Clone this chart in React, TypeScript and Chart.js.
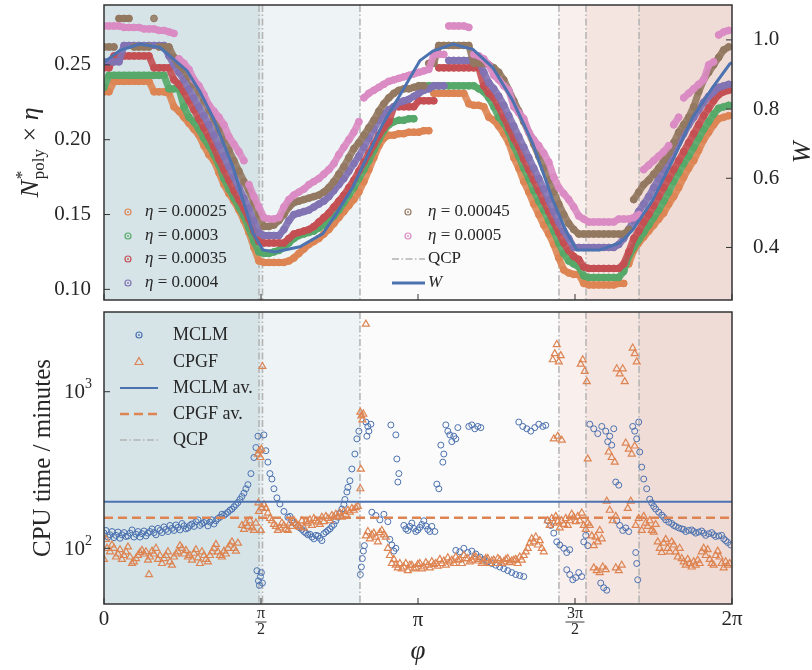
import React, { useEffect, useRef } from 'react';
import { Chart, registerables } from 'chart.js';
Chart.register(...registerables);

const PI = Math.PI;

// ---------------- data: top panel ----------------
const PHI = [
  0.00, 0.05, 0.10, 0.15, 0.20, 0.25, 0.30, 0.35, 0.40, 0.45,
  0.50, 0.55, 0.60, 0.65, 0.70, 0.75, 0.80, 0.85, 0.90, 0.95,
  1.00, 1.05, 1.10, 1.15, 1.20, 1.25, 1.30, 1.35, 1.40, 1.45,
  1.50, 1.55, 1.60, 1.65, 1.70, 1.75, 1.80, 1.85, 1.90, 1.95,
  2.00, 2.05, 2.10, 2.15, 2.20, 2.25, 2.30, 2.35, 2.40, 2.45,
  2.50, 2.55, 2.60, 2.65, 2.70, 2.75, 2.80, 2.85, 2.90, 2.95,
  3.00, 3.05, 3.10, 3.15, 3.20, 3.25, 3.30, 3.35, 3.40, 3.45,
  3.50, 3.55, 3.60, 3.65, 3.70, 3.75, 3.80, 3.85, 3.90, 3.95,
  4.00, 4.05, 4.10, 4.15, 4.20, 4.25, 4.30, 4.35, 4.40, 4.45,
  4.50, 4.55, 4.60, 4.65, 4.70, 4.75, 4.80, 4.85, 4.90, 4.95,
  5.00, 5.05, 5.10, 5.15, 5.20, 5.25, 5.30, 5.35, 5.40, 5.45,
  5.50, 5.55, 5.60, 5.65, 5.70, 5.75, 5.80, 5.85, 5.90, 5.95,
  6.00, 6.05, 6.10, 6.15, 6.20, 6.25,
];

const ETA_LABELS = ['0.00025', '0.0003', '0.00035', '0.0004', '0.00045', '0.0005'];

const N_ETA_00025 = [
  0.232, 0.232, 0.239, 0.239, 0.239, 0.239, 0.239, 0.239, 0.239, 0.239,
  0.232, 0.232, 0.232, 0.231, 0.222, 0.219, 0.215, 0.211, 0.207, 0.203,
  0.196, 0.190, 0.186, 0.178, 0.170, 0.164, 0.159, 0.153, 0.146, 0.138,
  0.128, 0.119, 0.118, 0.118, 0.118, 0.118, 0.118, 0.119, 0.121, 0.124,
  0.127, 0.130, 0.132, 0.134, 0.137, 0.140, 0.144, 0.148, 0.152, 0.156,
  0.160, 0.165, 0.172, 0.180, 0.188, 0.196, 0.201, 0.203, 0.203, 0.204,
  0.204, 0.205, 0.205, 0.205, 0.206, 0.206, 0.231, 0.231, 0.231, 0.231,
  0.231, 0.231, 0.231, 0.224, 0.223, 0.223, 0.222, 0.215, 0.213, 0.209,
  0.204, 0.198, 0.188, 0.181, 0.172, 0.165, 0.157, 0.150, 0.143, 0.137,
  0.130, 0.121, 0.113, 0.111, 0.110, 0.110, 0.104, 0.103, 0.103, 0.103,
  0.103, 0.103, 0.103, 0.104, 0.104, 0.117, 0.126, 0.131, 0.135, 0.139,
  0.143, 0.147, 0.151, 0.157, 0.162, 0.168, 0.175, 0.181, 0.186, 0.193,
  0.200, 0.205, 0.210, 0.214, 0.215, 0.216,
];

const N_ETA_0003 = [
  0.235, 0.243, 0.243, 0.243, 0.243, 0.243, 0.243, 0.243, 0.243, 0.243,
  0.243, 0.243, 0.243, 0.234, 0.234, 0.234, 0.222, 0.215, 0.212, 0.207,
  0.201, 0.196, 0.190, 0.183, 0.174, 0.167, 0.161, 0.155, 0.149, 0.141,
  0.132, 0.125, 0.124, 0.124, 0.125, 0.126, 0.128, 0.131, 0.134, 0.136,
  0.137, 0.138, 0.139, 0.141, 0.143, 0.146, 0.149, 0.153, 0.158, 0.163,
  0.168, 0.174, 0.180, 0.186, 0.193, 0.200, 0.206, 0.210, 0.212, 0.213,
  0.213, 0.214, 0.214, 0.236, 0.236, 0.236, 0.236, 0.236, 0.236, 0.236,
  0.236, 0.236, 0.236, 0.236, 0.236, 0.234, 0.232, 0.228, 0.222, 0.215,
  0.211, 0.205, 0.196, 0.189, 0.181, 0.174, 0.166, 0.159, 0.153, 0.146,
  0.139, 0.131, 0.124, 0.119, 0.117, 0.115, 0.109, 0.108, 0.108, 0.108,
  0.108, 0.108, 0.108, 0.108, 0.112, 0.122, 0.128, 0.133, 0.138, 0.143,
  0.148, 0.153, 0.159, 0.165, 0.172, 0.178, 0.184, 0.189, 0.195, 0.201,
  0.207, 0.212, 0.217, 0.221, 0.222, 0.223,
];

const N_ETA_00035 = [
  0.248, 0.248, 0.256, 0.256, 0.256, 0.256, 0.256, 0.256, 0.256, 0.256,
  0.248, 0.248, 0.248, 0.248, 0.240, 0.237, 0.232, 0.226, 0.220, 0.214,
  0.208, 0.202, 0.195, 0.187, 0.180, 0.173, 0.166, 0.160, 0.154, 0.147,
  0.139, 0.132, 0.131, 0.131, 0.131, 0.131, 0.131, 0.134, 0.137, 0.138,
  0.139, 0.140, 0.142, 0.145, 0.148, 0.151, 0.155, 0.159, 0.163, 0.168,
  0.173, 0.179, 0.185, 0.191, 0.197, 0.203, 0.208, 0.212, 0.222, 0.222,
  0.222, 0.222, 0.222, 0.226, 0.226, 0.226, 0.226, 0.248, 0.248, 0.248,
  0.248, 0.248, 0.248, 0.248, 0.248, 0.248, 0.236, 0.231, 0.228, 0.222,
  0.215, 0.208, 0.201, 0.195, 0.187, 0.180, 0.173, 0.166, 0.159, 0.152,
  0.145, 0.138, 0.131, 0.126, 0.122, 0.120, 0.115, 0.114, 0.114, 0.114,
  0.114, 0.114, 0.114, 0.114, 0.117, 0.125, 0.134, 0.139, 0.145, 0.150,
  0.156, 0.162, 0.168, 0.174, 0.180, 0.186, 0.192, 0.198, 0.204, 0.210,
  0.216, 0.221, 0.226, 0.230, 0.232, 0.233,
];

const N_ETA_0004 = [
  0.252, 0.252, 0.252, 0.252, 0.263, 0.263, 0.263, 0.263, 0.263, 0.263,
  0.263, 0.263, 0.263, 0.256, 0.250, 0.245, 0.240, 0.234, 0.228, 0.222,
  0.216, 0.210, 0.203, 0.196, 0.189, 0.182, 0.175, 0.168, 0.161, 0.154,
  0.146, 0.138, 0.136, 0.136, 0.136, 0.136, 0.140, 0.146, 0.150, 0.151,
  0.152, 0.153, 0.155, 0.157, 0.159, 0.162, 0.166, 0.170, 0.174, 0.179,
  0.184, 0.189, 0.195, 0.201, 0.207, 0.213, 0.217, 0.220, 0.222, 0.225,
  0.226, 0.227, 0.229, 0.231, 0.233, 0.234, 0.236, 0.236, 0.236, 0.253,
  0.253, 0.253, 0.253, 0.253, 0.253, 0.253, 0.245, 0.238, 0.234, 0.229,
  0.223, 0.216, 0.209, 0.202, 0.195, 0.188, 0.181, 0.174, 0.167, 0.160,
  0.152, 0.145, 0.139, 0.134, 0.128, 0.128, 0.128, 0.128, 0.128, 0.128,
  0.128, 0.128, 0.128, 0.130, 0.134, 0.140, 0.146, 0.152, 0.157, 0.162,
  0.168, 0.174, 0.180, 0.186, 0.192, 0.198, 0.204, 0.210, 0.215, 0.220,
  0.225, 0.229, 0.232, 0.235, 0.236, 0.237,
];

const N_ETA_00045 = [
  0.262, 0.262, 0.262, 0.281, 0.281, 0.281, 0.262, 0.262, 0.262, 0.262,
  0.281, 0.262, 0.262, 0.262, 0.255, 0.250, 0.247, 0.242, 0.237, 0.232,
  0.226, 0.220, 0.214, 0.207, 0.200, 0.193, 0.186, 0.179, 0.172, 0.166,
  0.158, 0.150, 0.142, 0.142, 0.143, 0.146, 0.150, 0.155, 0.158, 0.159,
  0.160, 0.161, 0.162, 0.163, 0.165, 0.168, 0.172, 0.177, 0.182, 0.188,
  0.194, 0.198, 0.203, 0.208, 0.213, 0.219, 0.224, 0.228, 0.231, 0.233,
  0.234, 0.234, 0.235, 0.236, 0.236, 0.251, 0.251, 0.263, 0.263, 0.263,
  0.263, 0.263, 0.263, 0.263, 0.251, 0.251, 0.251, 0.250, 0.248, 0.245,
  0.240, 0.233, 0.226, 0.219, 0.212, 0.205, 0.197, 0.189, 0.181, 0.173,
  0.165, 0.157, 0.150, 0.144, 0.140, 0.137, 0.137, 0.137, 0.137, 0.137,
  0.137, 0.137, 0.137, 0.137, 0.137, 0.140, 0.160, 0.165, 0.170, 0.173,
  0.177, 0.181, 0.186, 0.191, 0.198, 0.205, 0.210, 0.215, 0.222, 0.232,
  0.240, 0.245, 0.250, 0.255, 0.260, 0.262,
];

const N_ETA_0005 = [
  0.276, 0.276, 0.276, 0.276, 0.275, 0.275, 0.275, 0.275, 0.274, 0.274,
  0.274, 0.273, 0.273, 0.272, 0.271, 0.254, 0.251, 0.247, 0.240, 0.236,
  0.230, 0.223, 0.219, 0.215, 0.210, 0.202, 0.197, 0.192, 0.186, 0.170,
  0.162, 0.155, 0.148, 0.147, 0.147, 0.148, 0.155, 0.160, 0.163, 0.165,
  0.167, 0.170, 0.172, 0.174, 0.177, 0.180, 0.184, 0.190, 0.195, 0.200,
  0.205, 0.212, 0.228, 0.231, 0.233, 0.235, 0.237, 0.239, 0.240, 0.241,
  0.242, 0.243, 0.244, 0.245, 0.246, 0.247, 0.257, 0.257, 0.257, 0.276,
  0.276, 0.276, 0.276, 0.275, 0.257, 0.256, 0.254, 0.250, 0.243, 0.240,
  0.236, 0.233, 0.222, 0.218, 0.214, 0.205, 0.200, 0.196, 0.191, 0.185,
  0.175, 0.168, 0.164, 0.160, 0.155, 0.149, 0.147, 0.145, 0.145, 0.145,
  0.145, 0.145, 0.145, 0.147, 0.147, 0.147, 0.148, 0.150, 0.180, 0.183,
  0.186, 0.189, 0.192, 0.196, 0.210, 0.215, 0.228, 0.231, 0.234, 0.237,
  0.240, 0.250, 0.252, 0.270, 0.272, 0.273,
];

const W_PHI = [
  0.00, 0.16, 0.36, 0.56, 0.83, 0.96, 1.09, 1.29, 1.49, 1.59,
  1.71, 1.96, 2.19, 2.33, 2.49, 2.63, 2.79, 2.96, 3.16, 3.29,
  3.49, 3.69, 3.89, 4.09, 4.29, 4.49, 4.63, 4.73, 4.96, 5.16,
  5.29, 5.49, 5.69, 5.89, 6.09, 6.26, 6.283,
];
const W_VAL = [
  0.935, 0.970, 0.988, 0.978, 0.911, 0.850, 0.776, 0.633, 0.442, 0.393,
  0.387, 0.402, 0.440, 0.500, 0.575, 0.661, 0.758, 0.840, 0.940, 0.968,
  0.988, 0.973, 0.920, 0.824, 0.700, 0.537, 0.442, 0.393, 0.393, 0.413,
  0.450, 0.537, 0.652, 0.776, 0.863, 0.930, 0.935,
];

// quantum critical points (phi) and shaded regions
const QCP = [1.551, 1.586, 2.561, 4.552, 4.822, 5.353];
const REGION_EDGES = [0, 1.551, 1.586, 2.561, 4.552, 4.822, 5.353, 2 * PI];
const REGION_COLORS = ['#d6e4e8', '#e2ebee', '#eef3f5', '#fbfbfb', '#f9efed', '#f4e5e1', '#efdcd6'];

// ---------------- data: bottom panel (phi, CPU minutes) ----------------
const MCLM_POINTS = [
  [0.00,125],[0.02,130],[0.04,118],[0.06,122],[0.08,128],[0.10,117],[0.12,121],[0.14,127],[0.16,116],[0.18,122],
  [0.20,126],[0.22,119],[0.24,120],[0.26,125],[0.28,131],[0.30,118],[0.32,123],[0.34,128],[0.36,118],[0.38,124],
  [0.40,129],[0.42,120],[0.44,125],[0.46,128],[0.48,133],[0.50,126],[0.52,122],[0.54,134],[0.56,130],[0.58,126],
  [0.60,137],[0.62,132],[0.64,128],[0.66,140],[0.68,134],[0.70,130],[0.72,141],[0.74,136],[0.76,131],[0.78,144],
  [0.80,139],[0.82,133],[0.84,135],[0.86,140],[0.88,143],[0.90,138],[0.92,148],[0.94,152],[0.96,140],[0.98,144],
  [1.00,146],[1.02,150],[1.04,139],[1.06,147],[1.08,152],[1.10,143],[1.12,150],[1.14,155],[1.16,158],[1.18,165],
  [1.20,162],[1.22,166],[1.24,170],[1.26,175],[1.28,178],[1.30,184],[1.32,190],[1.34,196],[1.36,205],[1.38,214],
  [1.40,225],[1.42,240],[1.44,255],[1.47,300],[1.50,380],[1.52,440],[1.54,520],
  [1.53,72],[1.545,62],[1.555,58],[1.565,66],[1.575,70],[1.585,60],
  [1.60,530],[1.62,420],[1.64,355],[1.66,300],[1.68,277],[1.70,240],[1.73,210],[1.76,192],[1.80,172],[1.84,158],
  [1.86,160],[1.88,150],[1.90,145],[1.92,142],[1.94,138],[1.96,135],[1.98,132],[2.00,128],[2.02,125],[2.04,122],
  [2.06,123],[2.08,118],[2.10,115],[2.12,121],[2.14,120],[2.16,116],[2.18,112],[2.20,124],[2.22,127],[2.24,130],
  [2.26,133],[2.28,138],[2.30,142],[2.32,150],[2.34,158],[2.36,168],[2.38,178],[2.40,190],[2.41,205],[2.43,229],
  [2.44,245],[2.46,270],[2.48,321],[2.51,400],[2.53,500],[2.55,560],
  [2.565,68],[2.575,76],[2.585,86],[2.595,96],[2.605,104],
  [2.62,640],[2.63,520],[2.64,600],[2.65,560],[2.67,620],
  [2.68,170],[2.72,162],[2.76,152],[2.80,165],[2.84,148],[2.86,114],[2.88,105],[2.90,96],[2.92,100],
  [2.87,613],[2.92,530],[2.93,372],[2.94,265],[2.95,300],
  [3.00,140],[3.02,133],[3.04,130],[3.06,138],[3.08,145],[3.10,134],[3.12,128],[3.14,131],[3.16,136],[3.18,142],
  [3.20,150],[3.22,139],[3.24,132],[3.26,128],[3.28,138],[3.31,128],
  [3.33,257],[3.35,240],[3.37,456],[3.39,355],[3.40,400],
  [3.42,614],[3.44,560],[3.46,530],[3.48,480],[3.50,520],[3.52,500],[3.54,590],
  [3.65,600],[3.68,614],[3.71,580],[3.74,600],[3.77,590],
  [3.52,97],[3.56,95],[3.60,100],[3.64,94],[3.68,96],[3.72,92],[3.76,88],[3.80,85],[3.84,82],[3.88,80],
  [3.92,78],[3.96,76],[4.00,74],[4.04,72],[4.08,70],[4.12,68],[4.16,67],[4.20,66],
  [4.15,640],[4.19,600],[4.23,580],[4.27,560],[4.31,590],[4.35,620],[4.39,600],[4.42,610],
  [4.44,150],[4.47,140],[4.50,125],[4.53,110],[4.56,105],[4.60,100],[4.63,94],[4.66,98],
  [4.63,73],[4.66,68],[4.69,63],[4.72,65],[4.75,70],[4.78,66],
  [4.80,110],[4.82,121],[4.84,104],
  [4.86,620],[4.90,580],[4.94,540],[4.98,600],[5.02,560],[5.06,520],[5.10,580],[5.04,480],[5.08,456],
  [4.97,60],[5.00,56],[5.03,54],
  [5.12,265],[5.15,253],
  [5.13,150],[5.16,140],[5.19,130],[5.22,135],[5.25,128],
  [5.29,600],[5.31,560],[5.33,500],[5.35,640],
  [5.32,94],[5.33,80],[5.34,63],
  [5.36,412],[5.38,330],[5.40,277],[5.43,240],[5.46,206],[5.48,195],[5.50,185],[5.52,178],[5.55,170],[5.58,163],
  [5.60,158],[5.62,152],[5.65,147],[5.68,144],[5.70,140],[5.72,138],[5.75,135],[5.78,133],[5.80,132],[5.82,128],
  [5.85,130],[5.88,131],[5.90,128],[5.92,125],[5.95,127],[5.98,129],[6.00,125],[6.02,121],[6.05,124],[6.08,126],
  [6.10,122],[6.12,119],[6.15,120],[6.18,121],[6.20,115],[6.22,112],[6.24,109],[6.27,105],
];

const CPGF_POINTS = [
  [0.00,85],[0.02,114],[0.03,100],[0.06,95],[0.08,105],[0.10,100],[0.12,88],[0.14,92],[0.16,98],[0.18,85],
  [0.20,90],[0.22,95],[0.24,102],[0.26,88],[0.28,80],[0.30,82],[0.32,86],[0.34,90],[0.36,94],[0.38,97],
  [0.40,92],[0.42,95],[0.44,84],[0.45,68],[0.46,88],[0.48,96],[0.50,92],[0.52,100],[0.54,85],[0.56,90],
  [0.58,80],[0.60,86],[0.62,90],[0.64,95],[0.66,82],[0.68,78],[0.70,88],[0.72,92],[0.74,95],[0.76,104],
  [0.78,100],[0.80,92],[0.82,97],[0.84,88],[0.86,90],[0.88,84],[0.90,93],[0.92,98],[0.94,87],[0.96,80],
  [0.98,95],[1.00,90],[1.02,85],[1.04,82],[1.06,90],[1.08,95],[1.10,100],[1.12,106],[1.14,95],[1.16,90],
  [1.18,88],[1.20,96],[1.22,92],[1.24,100],[1.26,105],[1.28,110],[1.30,100],[1.32,96],[1.34,108],
  [1.38,140],[1.40,132],[1.42,145],[1.44,138],[1.46,150],[1.48,135],[1.50,130],[1.52,145],
  [1.54,400],[1.555,420],[1.565,380],[1.575,430],[1.585,1450],[1.545,195],[1.55,172],[1.58,182],[1.60,190],[1.57,130],
  [1.62,180],[1.64,168],[1.66,155],[1.68,150],[1.70,142],[1.72,138],[1.74,130],[1.76,135],[1.78,145],[1.80,140],
  [1.82,132],[1.84,130],[1.86,145],[1.88,138],[1.90,150],[1.92,145],[1.94,140],[1.96,136],[1.98,150],[2.00,135],
  [2.02,148],[2.04,145],[2.06,152],[2.08,140],[2.10,155],[2.12,150],[2.14,147],[2.16,142],[2.18,158],[2.20,148],
  [2.22,160],[2.24,155],[2.26,150],[2.28,162],[2.30,158],[2.32,165],[2.34,160],[2.36,168],[2.38,158],[2.40,172],
  [2.42,165],[2.44,175],[2.46,170],[2.48,180],[2.50,175],[2.52,182],[2.54,185],
  [2.565,740],[2.575,700],[2.585,660],[2.595,720],[2.57,320],[2.565,240],[2.62,2700],
  [2.62,120],[2.64,128],[2.66,115],[2.68,122],[2.70,125],[2.72,118],[2.74,110],[2.76,126],[2.78,130],[2.80,122],
  [2.82,118],[2.84,100],[2.86,90],[2.88,80],[2.90,85],[2.92,78],[2.94,75],[2.96,80],[2.98,74],[3.00,76],
  [3.02,80],[3.04,72],[3.06,78],[3.08,78],[3.10,74],[3.12,75],[3.14,79],[3.16,80],[3.18,74],[3.20,76],
  [3.22,81],[3.24,78],[3.26,75],[3.28,82],[3.30,79],[3.32,80],[3.34,77],[3.36,85],[3.38,80],[3.40,83],
  [3.42,78],[3.44,87],[3.46,82],[3.48,84],[3.50,80],[3.52,88],[3.54,84],[3.56,85],[3.58,80],[3.60,90],
  [3.62,86],[3.64,86],[3.66,82],[3.68,84],[3.70,88],[3.72,88],[3.74,83],[3.76,85],[3.78,80],[3.80,82],
  [3.82,86],[3.84,86],[3.86,80],[3.88,83],[3.90,84],[3.92,80],[3.94,86],[3.96,84],[3.98,80],[4.00,82],
  [4.02,85],[4.04,86],[4.06,81],[4.08,83],[4.10,84],[4.12,85],[4.14,80],[4.16,88],[4.18,84],[4.20,90],
  [4.22,95],[4.24,100],[4.26,108],[4.28,115],[4.30,110],[4.32,118],[4.34,105],[4.36,112],[4.38,100],[4.40,95],
  [4.44,150],[4.46,140],[4.48,155],[4.50,145],[4.52,160],[4.54,148],[4.56,135],[4.58,150],[4.60,142],[4.62,155],
  [4.64,140],[4.66,150],[4.68,165],[4.70,158],[4.72,148],[4.74,160],[4.76,150],[4.78,168],[4.80,140],[4.82,132],
  [4.84,145],
  [4.49,1600],[4.51,1750],[4.53,2000],[4.55,1550],[4.57,1700],[4.50,500],[4.54,520],[4.58,490],
  [4.77,1500],[4.79,1600],[4.81,1350],[4.83,1160],[4.84,372],
  [4.86,140],[4.88,120],[4.90,104],[4.92,118],[4.94,110],[4.96,130],[4.98,115],
  [4.90,75],[4.93,72],[4.96,70],[4.99,76],[5.02,73],
  [5.05,412],[5.08,380],[5.11,355],
  [5.03,200],[5.06,175],[5.09,150],[5.12,160],
  [5.13,1400],[5.16,1300],[5.19,1400],[5.21,1160],
  [5.12,75],[5.15,72],[5.18,78],
  [5.22,470],[5.25,430],[5.28,400],[5.31,450],[5.27,200],[5.24,180],
  [5.29,1900],[5.31,1750],[5.33,1550],
  [5.32,140],[5.35,155],[5.38,130],[5.40,160],[5.42,145],[5.44,138],[5.46,150],[5.48,130],[5.50,127],[5.52,142],
  [5.54,110],[5.56,100],[5.58,94],[5.60,108],[5.62,114],[5.64,100],[5.66,95],[5.68,110],[5.70,105],[5.72,95],
  [5.74,88],[5.76,100],[5.78,86],
  [5.80,82],[5.82,78],[5.84,85],[5.86,80],[5.88,76],[5.90,82],[5.92,78],[5.94,84],[5.96,80],[5.98,95],
  [6.00,100],[6.02,90],[6.04,98],[6.06,85],[6.08,80],[6.10,78],[6.12,90],[6.14,96],[6.16,88],[6.18,80],
  [6.20,75],[6.22,82],[6.24,78],[6.26,80],
];

const MCLM_AVG = 198;
const CPGF_AVG = 157;

// ---------------- ticks ----------------
const X_TICKS = [0, PI / 2, PI, (3 * PI) / 2, 2 * PI];
const TOP_Y_TICKS = [0.10, 0.15, 0.20, 0.25];
const TOP_Y_LABELS = ['0.10', '0.15', '0.20', '0.25'];
const W_TICKS = [0.4, 0.6, 0.8, 1.0];
const W_LABELS = ['0.4', '0.6', '0.8', '1.0'];
const LOG_TICKS = [100, 1000];
const LOG_EXP = ['2', '3'];

// ---------------- style ----------------
const SERIF = '"Liberation Serif", "Times New Roman", serif';
const TXT = '#262626';
const AXC = '#333333';
const C_BLUE = '#4c72b0';
const C_ORANGE = '#dd8452';
const C_GREEN = '#55a868';
const C_RED = '#c44e52';
const C_PURPLE = '#8172b3';
const C_BROWN = '#937860';
const C_PINK = '#da8bc3';
const C_QCP = '#b3b3b3';
const QCP_DASH = [7, 2.5, 1.5, 2.5];
const ETA_COLORS = [C_ORANGE, C_GREEN, C_RED, C_PURPLE, C_BROWN, C_PINK];
const ETA_SERIES = [N_ETA_00025, N_ETA_0003, N_ETA_00035, N_ETA_0004, N_ETA_00045, N_ETA_0005];
const BAND_JUMP = 0.0125; // larger steps between neighbours are drawn as separate clusters

function alpha(hex: string, a: number) {
  const r = parseInt(hex.slice(1, 3), 16), g = parseInt(hex.slice(3, 5), 16), b = parseInt(hex.slice(5, 7), 16);
  return `rgba(${r},${g},${b},${a})`;
}

function line(ctx: CanvasRenderingContext2D, x0: number, y0: number, x1: number, y1: number) {
  ctx.beginPath(); ctx.moveTo(x0, y0); ctx.lineTo(x1, y1); ctx.stroke();
}

type Run = { t: string; f: string; dy?: number };
function drawRuns(ctx: CanvasRenderingContext2D, runs: Run[], x: number, y: number) {
  let cx = x;
  for (const r of runs) { ctx.font = r.f; ctx.fillText(r.t, cx, y + (r.dy || 0)); cx += ctx.measureText(r.t).width; }
  return cx;
}

function circleMarker(ctx: CanvasRenderingContext2D, x: number, y: number, color: string) {
  ctx.save();
  ctx.strokeStyle = color; ctx.fillStyle = color; ctx.lineWidth = 1.2; ctx.setLineDash([]);
  ctx.beginPath(); ctx.arc(x, y, 3, 0, 2 * PI); ctx.stroke();
  ctx.beginPath(); ctx.arc(x, y, 0.9, 0, 2 * PI); ctx.fill();
  ctx.restore();
}
function triMarker(ctx: CanvasRenderingContext2D, x: number, y: number, color: string) {
  ctx.save();
  ctx.strokeStyle = color; ctx.lineWidth = 1.2; ctx.setLineDash([]);
  ctx.beginPath(); ctx.moveTo(x, y - 4.5); ctx.lineTo(x + 4, y + 2.5); ctx.lineTo(x - 4, y + 2.5); ctx.closePath(); ctx.stroke();
  ctx.restore();
}

const bgPlugin = {
  id: 'bgRegions',
  beforeDatasetsDraw(chart: any) {
    const { ctx, chartArea: a, scales } = chart;
    const sx = scales.x;
    ctx.save();
    for (let i = 0; i < REGION_COLORS.length; i++) {
      const x0 = sx.getPixelForValue(REGION_EDGES[i]);
      const x1 = sx.getPixelForValue(REGION_EDGES[i + 1]);
      ctx.fillStyle = REGION_COLORS[i];
      ctx.fillRect(x0, a.top, x1 - x0, a.bottom - a.top);
    }
    ctx.strokeStyle = C_QCP; ctx.lineWidth = 1.5; ctx.setLineDash(QCP_DASH);
    for (const q of QCP) {
      const px = sx.getPixelForValue(q);
      line(ctx, px, a.top, px, a.bottom);
    }
    ctx.restore();
  },
};

const topDeco = {
  id: 'topDeco',
  afterDraw(chart: any) {
    const { ctx, chartArea: a, scales } = chart;
    const sx = scales.x, sy = scales.y, sw = scales.yW;
    ctx.save();
    ctx.setLineDash([]);
    ctx.strokeStyle = AXC; ctx.lineWidth = 1.5;
    ctx.strokeRect(a.left, a.top, a.right - a.left, a.bottom - a.top);
    ctx.lineWidth = 1;
    for (const t of X_TICKS) { const px = sx.getPixelForValue(t); line(ctx, px, a.bottom, px, a.bottom - 6); }
    ctx.fillStyle = TXT; ctx.textBaseline = 'middle';
    ctx.font = `21px ${SERIF}`;
    TOP_Y_TICKS.forEach((t, i) => {
      const py = sy.getPixelForValue(t);
      line(ctx, a.left, py, a.left + 6, py);
      ctx.textAlign = 'right'; ctx.fillText(TOP_Y_LABELS[i], a.left - 13, py);
    });
    W_TICKS.forEach((t, i) => {
      const py = sw.getPixelForValue(t);
      line(ctx, a.right, py, a.right - 6, py);
      ctx.textAlign = 'left'; ctx.fillText(W_LABELS[i], a.right + 21, py);
    });
    ctx.save();
    const cy = (a.top + a.bottom) / 2;
    ctx.translate(38, cy);
    ctx.rotate(-PI / 2);
    ctx.textAlign = 'left'; ctx.textBaseline = 'alphabetic';
    const fBig = `italic 26px ${SERIF}`;
    const fSmall = `17px ${SERIF}`;
    ctx.font = fBig; const wN = ctx.measureText('N').width;
    ctx.font = fSmall; const wPoly = ctx.measureText('poly').width;
    ctx.font = `26px ${SERIF}`; const wTimes = ctx.measureText(' × ').width;
    ctx.font = fBig; const wEta = ctx.measureText('η').width;
    const total = wN + wPoly + 2 + wTimes + wEta;
    let x0 = -total / 2;
    ctx.font = fBig; ctx.fillText('N', x0, 0); x0 += wN + 1;
    ctx.font = fSmall; ctx.fillText('*', x0, -11); ctx.fillText('poly', x0, 6); x0 += wPoly + 1;
    ctx.font = `26px ${SERIF}`; ctx.fillText(' × ', x0, 0); x0 += wTimes;
    ctx.font = fBig; ctx.fillText('η', x0, 0);
    ctx.restore();
    ctx.save();
    ctx.translate(810, cy);
    ctx.rotate(-PI / 2);
    ctx.textAlign = 'center'; ctx.textBaseline = 'alphabetic';
    ctx.font = `italic 26px ${SERIF}`;
    ctx.fillText('W', 0, 0);
    ctx.restore();
    ctx.textAlign = 'left'; ctx.textBaseline = 'middle';
    const fI = `italic 17px ${SERIF}`, fR = `17px ${SERIF}`;
    const rows1 = [212, 236, 259, 283];
    for (let i = 0; i < 4; i++) {
      circleMarker(ctx, 128, rows1[i], ETA_COLORS[i]);
      ctx.fillStyle = TXT;
      drawRuns(ctx, [{ t: 'η', f: fI }, { t: ' = ' + ETA_LABELS[i], f: fR }], 145, rows1[i]);
    }
    for (let i = 4; i < 6; i++) {
      const y = rows1[i - 4];
      circleMarker(ctx, 408, y, ETA_COLORS[i]);
      ctx.fillStyle = TXT;
      drawRuns(ctx, [{ t: 'η', f: fI }, { t: ' = ' + ETA_LABELS[i], f: fR }], 428, y);
    }
    ctx.strokeStyle = C_QCP; ctx.lineWidth = 1.5; ctx.setLineDash(QCP_DASH);
    line(ctx, 392, rows1[2], 425, rows1[2]);
    ctx.setLineDash([]);
    ctx.strokeStyle = C_BLUE; ctx.lineWidth = 3;
    line(ctx, 392, rows1[3], 425, rows1[3]);
    ctx.fillStyle = TXT;
    ctx.font = fR; ctx.fillText('QCP', 428, rows1[2]);
    ctx.font = fI; ctx.fillText('W', 428, rows1[3]);
    ctx.restore();
  },
};

const botDeco = {
  id: 'botDeco',
  afterDraw(chart: any) {
    const { ctx, chartArea: a, scales } = chart;
    const sx = scales.x, sy = scales.y;
    ctx.save();
    ctx.setLineDash([]);
    ctx.strokeStyle = AXC; ctx.lineWidth = 1.5;
    ctx.strokeRect(a.left, a.top, a.right - a.left, a.bottom - a.top);
    ctx.lineWidth = 1;
    for (const t of X_TICKS) { const px = sx.getPixelForValue(t); line(ctx, px, a.bottom, px, a.bottom - 6); }
    ctx.fillStyle = TXT;
    LOG_TICKS.forEach((t, i) => {
      const py = sy.getPixelForValue(t);
      line(ctx, a.left, py, a.left + 6, py);
      ctx.textBaseline = 'middle';
      ctx.font = `14px ${SERIF}`; const we = ctx.measureText(LOG_EXP[i]).width;
      ctx.font = `21px ${SERIF}`; const wb = ctx.measureText('10').width;
      const right = a.left - 12;
      ctx.textAlign = 'left';
      ctx.font = `21px ${SERIF}`; ctx.fillText('10', right - we - wb, py + 1);
      ctx.font = `14px ${SERIF}`; ctx.fillText(LOG_EXP[i], right - we, py - 7);
    });
    const yl = a.bottom + 15;
    ctx.textAlign = 'center'; ctx.textBaseline = 'middle';
    ctx.font = `21px ${SERIF}`;
    ctx.fillText('0', sx.getPixelForValue(X_TICKS[0]), yl);
    ctx.fillText('π', sx.getPixelForValue(X_TICKS[2]), yl + 1);
    ctx.fillText('2π', sx.getPixelForValue(X_TICKS[4]), yl);
    const frac = (num: string, x: number) => {
      ctx.font = `16px ${SERIF}`;
      const w = ctx.measureText(num).width;
      ctx.fillText(num, x, a.bottom + 10);
      ctx.fillText('2', x, a.bottom + 26);
      ctx.lineWidth = 0.9; ctx.strokeStyle = TXT;
      line(ctx, x - w / 2 - 1.5, a.bottom + 18, x + w / 2 + 1.5, a.bottom + 18);
    };
    frac('π', sx.getPixelForValue(X_TICKS[1]));
    frac('3π', sx.getPixelForValue(X_TICKS[3]));
    ctx.font = `italic 27px ${SERIF}`;
    ctx.fillText('φ', (a.left + a.right) / 2, a.bottom + 48);
    ctx.save();
    ctx.translate(50, (a.top + a.bottom) / 2);
    ctx.rotate(-PI / 2);
    ctx.textAlign = 'center'; ctx.textBaseline = 'alphabetic';
    ctx.font = `25px ${SERIF}`;
    ctx.fillText('CPU time / minutes', 0, 0);
    ctx.restore();
    ctx.textAlign = 'left'; ctx.textBaseline = 'middle';
    const rows = [a.top + 23, a.top + 50, a.top + 76, a.top + 102, a.top + 128];
    circleMarker(ctx, 139, rows[0], C_BLUE);
    triMarker(ctx, 139, rows[1], C_ORANGE);
    ctx.setLineDash([]); ctx.strokeStyle = C_BLUE; ctx.lineWidth = 2;
    line(ctx, 120, rows[2], 158, rows[2]);
    ctx.setLineDash([9, 5]); ctx.strokeStyle = C_ORANGE; ctx.lineWidth = 2.5;
    line(ctx, 120, rows[3], 158, rows[3]);
    ctx.setLineDash(QCP_DASH); ctx.strokeStyle = C_QCP; ctx.lineWidth = 1.5;
    line(ctx, 120, rows[4], 158, rows[4]);
    ctx.setLineDash([]);
    ctx.fillStyle = TXT; ctx.font = `18px ${SERIF}`;
    ['MCLM', 'CPGF', 'MCLM av.', 'CPGF av.', 'QCP'].forEach((t, i) => ctx.fillText(t, 173, rows[i]));
    ctx.restore();
  },
};

export default function App() {
  const topRef = useRef<HTMLCanvasElement>(null);
  const botRef = useRef<HTMLCanvasElement>(null);

  useEffect(() => {
    const clip = { left: 0, top: 0, right: 0, bottom: 0 };
    const etaSets = ETA_SERIES.map((vals, k) => {
      const col = ETA_COLORS[k];
      return {
        label: 'η = ' + ETA_LABELS[k],
        data: PHI.map((x, i) => ({ x, y: vals[i] })),
        yAxisID: 'y',
        borderColor: col,
        backgroundColor: alpha(col, 0.85),
        pointRadius: 3.4,
        pointBorderWidth: 1,
        showLine: true,
        borderWidth: 7,
        borderCapStyle: 'round',
        borderJoinStyle: 'round',
        segment: {
          borderColor: (c: any) =>
            Math.abs(c.p1.parsed.y - c.p0.parsed.y) > BAND_JUMP ? 'rgba(0,0,0,0)' : alpha(col, 0.9),
        },
        clip,
      };
    }).reverse();

    const top = new Chart(topRef.current!, {
      type: 'scatter',
      data: {
        datasets: [
          {
            label: 'W',
            data: W_PHI.map((x, i) => ({ x, y: W_VAL[i] })),
            yAxisID: 'yW',
            showLine: true,
            borderColor: C_BLUE,
            borderWidth: 3,
            pointRadius: 0,
            tension: 0,
            clip,
          } as any,
          ...(etaSets as any[]),
        ],
      },
      options: {
        animation: false,
        responsive: false,
        events: [],
        layout: { padding: { left: 104, right: 80, top: 4, bottom: 6 } },
        plugins: { legend: { display: false }, tooltip: { enabled: false } },
        scales: {
          x: { type: 'linear', min: 0, max: 2 * PI, display: false },
          y: { type: 'linear', min: 0.0929, max: 0.29, display: false },
          yW: { type: 'linear', position: 'right', min: 0.2481, max: 1.1009, display: false },
        },
      },
      plugins: [bgPlugin, topDeco],
    });

    const bot = new Chart(botRef.current!, {
      type: 'scatter',
      data: {
        datasets: [
          {
            label: 'MCLM av.',
            data: [{ x: 0, y: MCLM_AVG }, { x: 2 * PI, y: MCLM_AVG }],
            showLine: true, borderColor: C_BLUE, borderWidth: 2, pointRadius: 0, clip,
          } as any,
          {
            label: 'CPGF av.',
            data: [{ x: 0, y: CPGF_AVG }, { x: 2 * PI, y: CPGF_AVG }],
            showLine: true, borderColor: C_ORANGE, borderWidth: 2.5, borderDash: [9, 5], pointRadius: 0, clip,
          },
          {
            label: 'CPGF',
            data: CPGF_POINTS.map(([x, y]) => ({ x, y })),
            pointStyle: 'triangle', pointRadius: 4, pointBorderWidth: 1.2,
            borderColor: C_ORANGE, backgroundColor: 'rgba(0,0,0,0)', clip,
          },
          {
            label: 'MCLM',
            data: MCLM_POINTS.map(([x, y]) => ({ x, y })),
            pointStyle: 'circle', pointRadius: 3, pointBorderWidth: 1,
            borderColor: C_BLUE, backgroundColor: 'rgba(0,0,0,0)', clip,
          },
        ],
      },
      options: {
        animation: false,
        responsive: false,
        events: [],
        layout: { padding: { left: 104, right: 80, top: 6, bottom: 66 } },
        plugins: { legend: { display: false }, tooltip: { enabled: false } },
        scales: {
          x: { type: 'linear', min: 0, max: 2 * PI, display: false },
          y: { type: 'logarithmic', min: 44.1, max: 3228, display: false },
        },
      },
      plugins: [bgPlugin, botDeco],
    });

    return () => { top.destroy(); bot.destroy(); };
  }, []);

  return (
    <div style={{ position: 'absolute', left: 0, top: 0, width: 812, height: 670, background: '#fff' }}>
      <canvas ref={topRef} width={812} height={306} style={{ position: 'absolute', left: 0, top: 0, width: 812, height: 306 }} />
      <canvas ref={botRef} width={812} height={364} style={{ position: 'absolute', left: 0, top: 306, width: 812, height: 364 }} />
    </div>
  );
}
